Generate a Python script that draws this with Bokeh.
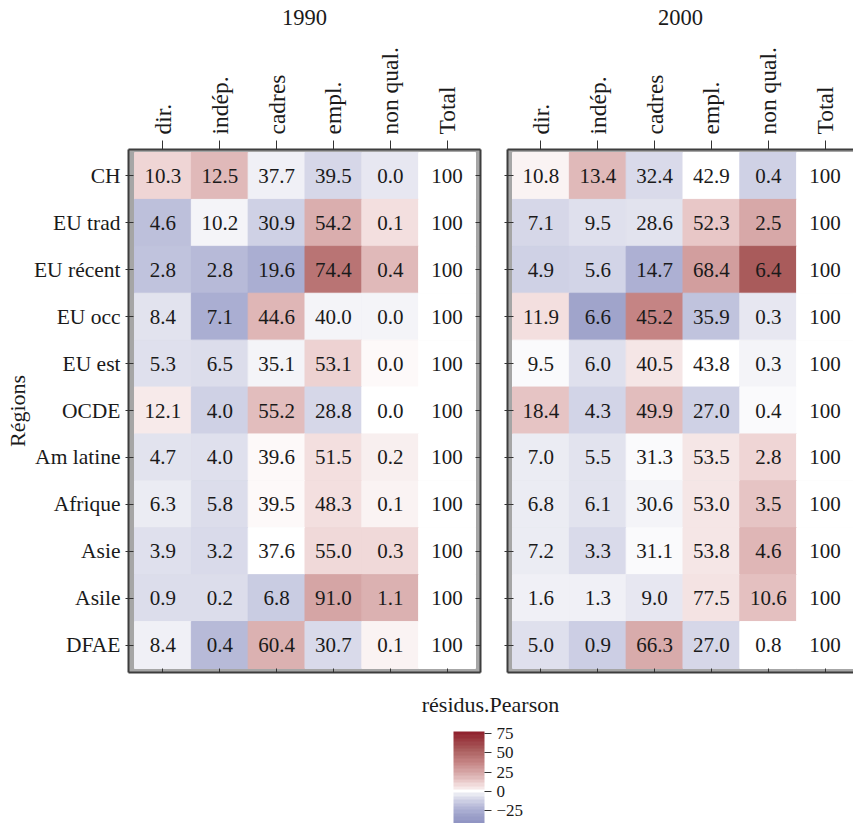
from bokeh.plotting import figure
from bokeh.models import (Range1d, FixedTicker, LinearAxis, ColumnDataSource,
                          LinearColorMapper, ColorBar)
from bokeh.transform import transform
from bokeh.layouts import row, column
from bokeh.core.properties import value
from bokeh.embed import file_html
from bokeh.resources import INLINE

# ---------------- data ----------------
regions = ["CH", "EU trad", "EU récent", "EU occ", "EU est", "OCDE",
           "Am latine", "Afrique", "Asie", "Asile", "DFAE"]
categories = ["dir.", "indép.", "cadres", "empl.", "non qual.", "Total"]
years = ["1990", "2000"]

pct_1990 = [
    [10.3, 12.5, 37.7, 39.5, 0.0, 100],
    [4.6, 10.2, 30.9, 54.2, 0.1, 100],
    [2.8, 2.8, 19.6, 74.4, 0.4, 100],
    [8.4, 7.1, 44.6, 40.0, 0.0, 100],
    [5.3, 6.5, 35.1, 53.1, 0.0, 100],
    [12.1, 4.0, 55.2, 28.8, 0.0, 100],
    [4.7, 4.0, 39.6, 51.5, 0.2, 100],
    [6.3, 5.8, 39.5, 48.3, 0.1, 100],
    [3.9, 3.2, 37.6, 55.0, 0.3, 100],
    [0.9, 0.2, 6.8, 91.0, 1.1, 100],
    [8.4, 0.4, 60.4, 30.7, 0.1, 100],
]
resid_1990 = [
    [10, 18, -3, -10, -5, 0],
    [-18, -2, -12, 22, 7, 0],
    [-17, -20, -26, 45, 18, 0],
    [-6, -26, 19, -1.5, -1.5, 0],
    [-6.5, -8, -2, 11, 0.5, 0],
    [4, -12, 17, -10, -0.3, 0],
    [-6, -6.5, 0.5, 7, 3, 0],
    [-4, -8, 1, 7, 2, 0],
    [-6.5, -8.5, 0, 9, 8.5, 0],
    [-7.5, -8, -14, 25, 21, 0],
    [-2.5, -20, 21, -9, 2, 0],
]
pct_2000 = [
    [10.8, 13.4, 32.4, 42.9, 0.4, 100],
    [7.1, 9.5, 28.6, 52.3, 2.5, 100],
    [4.9, 5.6, 14.7, 68.4, 6.4, 100],
    [11.9, 6.6, 45.2, 35.9, 0.3, 100],
    [9.5, 6.0, 40.5, 43.8, 0.3, 100],
    [18.4, 4.3, 49.9, 27.0, 0.4, 100],
    [7.0, 5.5, 31.3, 53.5, 2.8, 100],
    [6.8, 6.1, 30.6, 53.0, 3.5, 100],
    [7.2, 3.3, 31.1, 53.8, 4.6, 100],
    [1.6, 1.3, 9.0, 77.5, 10.6, 100],
    [5.0, 0.9, 66.3, 27.0, 0.8, 100],
]
resid_2000 = [
    [2, 18, -9, 0, -12, 0],
    [-10, -6.5, -6, 14, 24, 0],
    [-12, -11, -25, 28, 55, 0],
    [7, -30, 38, -17, -5, 0],
    [-0.5, -6.5, 5, 0, -2, 0],
    [15, -11, 17, -12, -0.5, 0],
    [-4, -5.5, -0.5, 5, 10, 0],
    [-4, -5.5, -2, 5, 15, 0],
    [-3.5, -9, -0.5, 5, 19, 0],
    [-3, -3, -5, 5.5, 16, 0],
    [-7, -13, 23, -9.5, 0, 0],
]
cb_ticks = [-25, 0, 25, 50, 75]
scale_low, scale_high = -78, 78
cb_low, cb_high = -42, 78

# ---------------- palette (style) ----------------
anchor_vals = [-78, -42, -30, -26, -20, -12, -6, -2, 0, 2, 5, 10, 18, 25, 38, 45, 55, 78]
anchor_cols = ["#5961a6", "#8e92c2", "#a0a4cb", "#aaaed2", "#b7bad8", "#cfd1e5",
               "#e2e3ee", "#f4f4f8", "#ffffff", "#faf3f3", "#f5e6e6", "#efd5d5",
               "#e0b9b9", "#d5a5a5", "#c58383", "#b87373", "#a85a5a", "#8f1d2a"]


def h2r(h):
    return [int(h[i:i + 2], 16) for i in (1, 3, 5)]


def col_at(v):
    for k in range(len(anchor_vals) - 1):
        a, b = anchor_vals[k], anchor_vals[k + 1]
        if a <= v <= b:
            t = (v - a) / (b - a)
            ca, cb = h2r(anchor_cols[k]), h2r(anchor_cols[k + 1])
            c = [round(ca[m] + t * (cb[m] - ca[m])) for m in range(3)]
            return "#%02x%02x%02x" % tuple(c)
    return anchor_cols[-1] if v > 0 else anchor_cols[0]


def make_palette(n):
    w = (scale_high - scale_low) / n
    return [col_at(scale_low + (i + 0.5) * w) for i in range(n)]


cell_mapper = LinearColorMapper(palette=make_palette(157), low=scale_low, high=scale_high)
bar_mapper = LinearColorMapper(palette=make_palette(35), low=scale_low, high=scale_high)

FONT = "Liberation Serif"
TXT = "#1a1a1a"
FRAME = "#3d3d3d"
n_rows = len(regions)


def blank_axis(ticks, tin):
    return LinearAxis(ticker=FixedTicker(ticks=ticks), major_label_text_font_size="1px",
                      major_label_text_color=None, major_label_standoff=0,
                      major_tick_in=tin, major_tick_out=0,
                      major_tick_line_color="#333333", axis_line_color=FRAME,
                      axis_line_width=2, minor_tick_line_color=None)


def make_panel(year, pct, resid, first):
    xs, ys, rs, labels = [], [], [], []
    for i in range(n_rows):
        for j in range(len(categories)):
            xs.append(j)
            ys.append(n_rows - 1 - i)
            rs.append(resid[i][j])
            v = pct[i][j]
            labels.append(str(int(v)) if categories[j] == "Total" else f"{v:.1f}")
    src = ColumnDataSource(dict(x=xs, y=ys, r=rs, t=labels))

    if first:
        xr = Range1d(-0.606, 5.588)
        width, mbl, mbr = 487, 128, 7
    else:
        xr = Range1d(-0.588, 5.5)
        width, mbl, mbr = 366, 20, 0
    p = figure(width=width, height=688, x_range=xr,
               y_range=Range1d(-0.585, n_rows - 1 + 0.564),
               x_axis_location="above", output_backend="svg",
               toolbar_location=None,
               min_border_left=mbl, min_border_right=mbr,
               min_border_top=149, min_border_bottom=16)
    p.background_fill_color = "#a6a6a6"
    p.border_fill_color = "white"
    p.outline_line_color = None
    p.grid.visible = False

    p.rect("x", "y", width=1, height=1, source=src,
           fill_color=transform("r", cell_mapper),
           line_color=transform("r", cell_mapper), line_width=1)
    p.text("x", "y", text="t", source=src, text_align="center",
           text_baseline="middle", text_color=TXT,
           text_font=value(FONT), text_font_size=value("21px"))

    xt = list(range(len(categories)))
    yt = list(range(n_rows))
    xa = p.xaxis[0]
    xa.ticker = FixedTicker(ticks=xt)
    xa.major_label_overrides = {j: categories[j] for j in xt}
    xa.major_label_orientation = "vertical"
    xa.major_label_text_font = FONT
    xa.major_label_text_font_size = "23.5px"
    xa.major_label_text_color = TXT
    xa.major_label_standoff = 6
    xa.major_tick_out = 9
    xa.major_tick_in = 0
    xa.major_tick_line_color = "#333333"
    xa.axis_line_color = FRAME
    xa.axis_line_width = 2
    xa.minor_tick_line_color = None
    # panel strip title (year) as the top axis label
    xa.axis_label = year
    xa.axis_label_text_font = FONT
    xa.axis_label_text_font_size = "22.5px"
    xa.axis_label_text_font_style = "normal"
    xa.axis_label_text_color = TXT
    xa.axis_label_standoff = 19

    ya = p.yaxis[0]
    ya.ticker = FixedTicker(ticks=yt)
    ya.major_tick_out = 3
    ya.major_tick_in = 5 if first else 6
    ya.major_tick_line_color = "#333333"
    ya.axis_line_color = FRAME
    ya.axis_line_width = 2
    ya.minor_tick_line_color = None
    if first:
        ya.major_label_overrides = {n_rows - 1 - i: regions[i] for i in range(n_rows)}
        ya.major_label_text_font = FONT
        ya.major_label_text_font_size = "21.5px"
        ya.major_label_text_color = TXT
        ya.major_label_standoff = 5
        ya.axis_label = "Régions"
        ya.axis_label_text_font = FONT
        ya.axis_label_text_font_size = "22px"
        ya.axis_label_text_font_style = "normal"
        ya.axis_label_text_color = TXT
        ya.axis_label_standoff = 1
    else:
        ya.axis_label = None
        ya.major_label_text_font_size = "1px"
        ya.major_label_text_color = None
        ya.major_label_standoff = 0

    p.add_layout(blank_axis(xt, 4), "below")
    if first:
        p.add_layout(blank_axis(yt, 5), "right")
    return p


p1 = make_panel(years[0], pct_1990, resid_1990, True)
p2 = make_panel(years[1], pct_2000, resid_2000, False)

# ---------------- colour key ----------------
cbf = figure(width=853, height=135, x_range=Range1d(0, 1), y_range=Range1d(0, 1),
             min_border_left=453, min_border_right=326, min_border_top=43,
             min_border_bottom=0, x_axis_location="above", y_axis_location=None,
             output_backend="svg", toolbar_location=None)
cbf.outline_line_color = None
cbf.grid.visible = False
ka = cbf.xaxis[0]
ka.ticker = FixedTicker(ticks=[])
ka.major_tick_out = 0
ka.major_tick_in = 0
ka.minor_tick_line_color = None
ka.major_label_text_font_size = "1px"
ka.major_label_text_color = None
ka.major_label_standoff = 0
ka.axis_line_color = None
ka.axis_label = "résidus.Pearson"
ka.axis_label_text_font = FONT
ka.axis_label_text_font_size = "22px"
ka.axis_label_text_font_style = "normal"
ka.axis_label_text_color = TXT
ka.axis_label_standoff = 15

cb = ColorBar(color_mapper=bar_mapper, orientation="vertical", width=31, height=92,
              location="top_left", margin=0, padding=0,
              display_low=cb_low, display_high=cb_high,
              ticker=FixedTicker(ticks=cb_ticks),
              major_label_overrides={-25: "\u221225"},
              major_label_text_font=FONT, major_label_text_font_size="17px",
              major_label_text_color=TXT,
              major_tick_out=7, major_tick_in=0, major_tick_line_color="#333333",
              minor_tick_line_color=None, bar_line_color=None,
              label_standoff=5, background_fill_color=None, border_line_color=None)
cbf.add_layout(cb)

layout = column(row(p1, p2), cbf)
open("out.html", "w").write(file_html(layout, INLINE))
